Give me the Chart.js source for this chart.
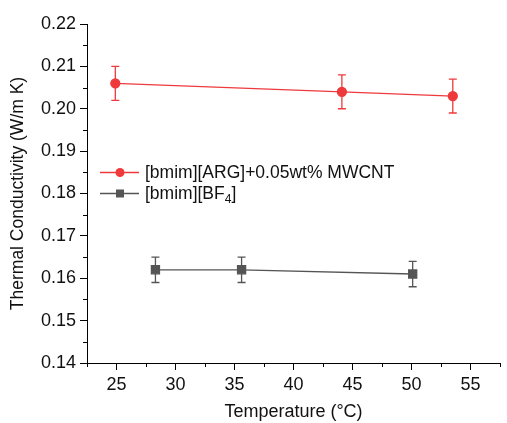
<!DOCTYPE html>
<html>
<head>
<meta charset="utf-8">
<script src="https://cdn.jsdelivr.net/npm/chart.js@4.4.0/dist/chart.umd.min.js"></script>
<style>
  html, body { margin: 0; padding: 0; background: #fff; }
  #wrap { width: 507px; height: 423px; }
</style>
</head>
<body>
<div id="wrap"><canvas id="myChart"></canvas></div>
<script>
// dados
const argTemps = [24.9, 44.1, 53.5];
const argValues = [0.206, 0.204, 0.203];
const argErrors = [0.004, 0.004, 0.004];

const bf4Temps = [28.3, 35.6, 50.1];
const bf4Values = [0.162, 0.162, 0.161];
const bf4Errors = [0.003, 0.003, 0.003];

const xTicks = [25, 30, 35, 40, 45, 50, 55];
const yTicks = [0.14, 0.15, 0.16, 0.17, 0.18, 0.19, 0.20, 0.21, 0.22];

const red = '#ee3a3c';
const gray = '#555555';
const fontFamily = 'Arial, "Liberation Sans", sans-serif';

const ctx = document.getElementById('myChart').getContext('2d');

// barras de erro + ticks menores + legenda dentro do gráfico
const extras = {
  id: 'extras',
  afterDatasetsDraw(chart) {
    const c = chart.ctx;
    const xs = chart.scales.x, ys = chart.scales.y;
    chart.data.datasets.forEach(ds => {
      c.save();
      c.strokeStyle = ds.borderColor;
      c.lineWidth = 1.3;
      ds.data.forEach((p, i) => {
        const px = xs.getPixelForValue(p.x);
        const top = ys.getPixelForValue(p.y + ds.errors[i]);
        const bot = ys.getPixelForValue(p.y - ds.errors[i]);
        c.beginPath();
        c.moveTo(px, top); c.lineTo(px, bot);
        c.moveTo(px - 4, top); c.lineTo(px + 4, top);
        c.moveTo(px - 4, bot); c.lineTo(px + 4, bot);
        c.stroke();
      });
      c.restore();
    });

    // ticks menores
    c.save();
    c.strokeStyle = '#000';
    c.lineWidth = 1;
    for (let v = 22.5; v <= 57.5; v += 5) {
      const px = Math.round(xs.getPixelForValue(v)) + 0.5;
      c.beginPath(); c.moveTo(px, xs.top); c.lineTo(px, xs.top + 4); c.stroke();
    }
    for (let v = 0.145; v < 0.22; v += 0.01) {
      const py = Math.round(ys.getPixelForValue(v)) + 0.5;
      c.beginPath(); c.moveTo(ys.right - 4, py); c.lineTo(ys.right, py); c.stroke();
    }
    c.restore();

    // legenda
    c.save();
    c.font = '17.5px ' + fontFamily;
    c.textBaseline = 'middle';
    c.fillStyle = '#000';
    // linha 1
    c.strokeStyle = red; c.lineWidth = 1.3;
    c.beginPath(); c.moveTo(100, 172.5); c.lineTo(139, 172.5); c.stroke();
    c.fillStyle = red;
    c.beginPath(); c.arc(120, 172.5, 4.5, 0, Math.PI * 2); c.fill();
    c.fillStyle = '#111';
    c.fillText('[bmim][ARG]+0.05wt% MWCNT', 145, 173);
    // linha 2
    c.strokeStyle = gray;
    c.beginPath(); c.moveTo(100, 193.5); c.lineTo(139, 193.5); c.stroke();
    c.fillStyle = gray;
    c.fillRect(116, 189.5, 8, 8);
    c.fillStyle = '#111';
    const t1 = '[bmim][BF';
    c.fillText(t1, 145, 194);
    let w = c.measureText(t1).width;
    c.font = '12px ' + fontFamily;
    c.fillText('4', 145 + w, 200);
    const w2 = c.measureText('4').width;
    c.font = '17.5px ' + fontFamily;
    c.fillText(']', 145 + w + w2, 194);
    c.restore();
  }
};

const data = {
  datasets: [{
    label: '[bmim][ARG]+0.05wt% MWCNT',
    data: argTemps.map((t, i) => ({ x: t, y: argValues[i] })),
    errors: argErrors,
    borderColor: red,
    backgroundColor: red,
    borderWidth: 1.3,
    pointStyle: 'circle',
    pointRadius: 4.5,
    pointHoverRadius: 4.5
  }, {
    label: '[bmim][BF4]',
    data: bf4Temps.map((t, i) => ({ x: t, y: bf4Values[i] })),
    errors: bf4Errors,
    borderColor: gray,
    backgroundColor: gray,
    borderWidth: 1.3,
    pointStyle: 'rect',
    pointRadius: 5.7,
    pointHoverRadius: 5.7
  }]
};

const config = {
  type: 'line',
  data: data,
  options: {
    responsive: true,
    maintainAspectRatio: false,
    animation: false,
    events: [],
    layout: { padding: { top: 24, right: 0, bottom: 0, left: 0 } },
    plugins: {
      legend: { display: false },
      tooltip: { enabled: false }
    },
    scales: {
      x: {
        type: 'linear',
        min: 22.5,
        max: 57.5,
        afterFit: s => { s.height = 60; },
        afterBuildTicks: s => { s.ticks = xTicks.map(v => ({ value: v })); },
        border: { color: '#000', width: 1 },
        grid: { drawOnChartArea: false, color: '#000', tickLength: 7 },
        ticks: { color: '#111', font: { size: 18, family: fontFamily }, padding: 4, maxRotation: 0 },
        title: {
          display: true,
          text: 'Temperature (°C)',
          color: '#111',
          font: { size: 18, family: fontFamily },
          padding: { top: 10, bottom: 0 }
        }
      },
      y: {
        min: 0.14,
        max: 0.22,
        afterFit: s => { s.width = 87; },
        afterBuildTicks: s => { s.ticks = yTicks.map(v => ({ value: v })); },
        border: { color: '#000', width: 1 },
        grid: { drawOnChartArea: false, color: '#000', tickLength: 7 },
        ticks: {
          color: '#111',
          font: { size: 18, family: fontFamily },
          padding: 4,
          callback: v => v.toFixed(2)
        },
        title: {
          display: true,
          text: 'Thermal Conductivity (W/m K)',
          color: '#111',
          font: { size: 17.5, family: fontFamily },
          padding: { top: 8, bottom: 6 }
        }
      }
    }
  },
  plugins: [extras]
};

new Chart(ctx, config);
</script>
</body>
</html>
